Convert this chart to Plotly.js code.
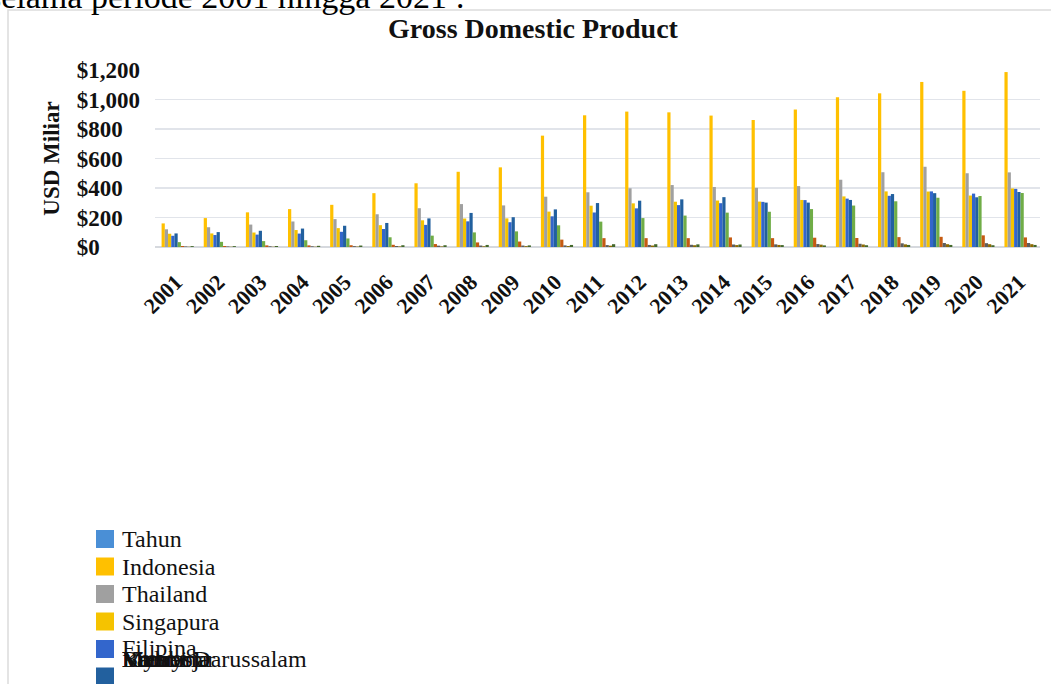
<!DOCTYPE html>
<html>
<head>
<meta charset="utf-8">
<script src="https://cdn.plot.ly/plotly-3.0.1.min.js"></script>
<style>
html,body{margin:0;padding:0;background:#fff;overflow:hidden;}
#chart{width:1051px;height:684px;}
</style>
</head>
<body>
<div id="chart"></div>
<script>
// ---- data (USD billions) ----
const years = ['2001','2002','2003','2004','2005','2006','2007','2008','2009','2010','2011','2012','2013','2014','2015','2016','2017','2018','2019','2020','2021'];
const tahun = years.map(() => null);
const indonesia = [160,196,235,257,286,365,432,510,540,755,893,918,913,891,861,932,1016,1042,1119,1059,1186];
const thailand  = [120,134,152,173,189,222,263,291,282,341,371,398,420,407,401,413,456,507,544,500,506];
const singapura = [90,92,98,115,128,148,181,193,194,240,280,296,307,315,308,319,343,377,376,349,397];
const filipina  = [76,81,84,91,103,122,150,174,168,208,234,262,284,297,306,318,328,347,377,362,394];
const malaysia  = [92,101,110,125,144,163,194,231,202,255,298,314,323,338,301,301,319,359,365,337,373];
const vietnam   = [33,35,40,46,58,66,77,99,106,147,172,196,213,233,239,257,281,310,334,346,366];
const myanmar   = [7,7,11,11,12,15,20,31,37,50,60,60,60,65,60,63,61,67,69,79,65];
const kamboja   = [4,4,5,5,6,7,9,10,10,11,13,14,15,17,18,20,22,25,27,26,27];
const laos      = [2,2,2,2,3,4,4,5,6,7,9,10,12,13,14,16,17,18,19,19,19];
const brunei    = [6,6,7,8,10,12,12,14,11,14,19,19,18,17,13,11,12,14,14,12,14];

const seriesNames = ['Tahun','Indonesia','Thailand','Singapura','Filipina','Malaysia','Vietnam','Myanmar','Kamboja','Laos','Brunei Darussalam'];
const seriesValues = [tahun,indonesia,thailand,singapura,filipina,malaysia,vietnam,myanmar,kamboja,laos,brunei];
const seriesColors = ['#4A8FD6','#FFC000','#A0A0A0','#F5C300','#3366CC','#22609E','#70AD47','#C55A11','#5E5E5E','#8C6A00','#43682B'];

const yTickVals = [0,200,400,600,800,1000,1200];
const yTickLabels = ['$0','$200','$400','$600','$800','$1,000','$1,200'];

const chartTitle = 'Gross Domestic Product';
const yTitle = 'USD Miliar';
const introText = 'selama periode 2001 hingga 2021 :';

// ---- helpers ----
const L = 155, R = 11, T = 70, B = 437;
const PW = 1051 - L - R, PH = 684 - T - B;
const px = x => (x - L) / PW;
const py = y => (684 - B - y) / PH;

// pad y labels so they look left-aligned like the original
function padLabel(s) {
  const longest = yTickLabels.reduce((a, b) => (b.length > a.length ? b : a));
  const dig = t => (t.match(/[0-9]/g) || []).length;
  const com = t => (t.match(/,/g) || []).length;
  return s + '\u2007'.repeat(dig(longest) - dig(s)) + '\u2008'.repeat(com(longest) - com(s));
}

const serif = 'Liberation Serif, Times New Roman, serif';

const traces = seriesNames.map((n, i) => ({
  type: 'bar',
  name: n,
  x: years,
  y: seriesValues[i],
  marker: {color: seriesColors[i], line: {width: 0}},
  showlegend: false,
  hoverinfo: 'x+y+name'
}));

// ---- custom legend (reproduces the original's overlapping entries) ----
const shapes = [];
const annotations = [];
const rowY = i => 539 + 27.5 * i;
seriesNames.forEach((n, i) => {
  const cy = rowY(i);
  shapes.push({type: 'rect', xref: 'paper', yref: 'paper',
    x0: px(96), x1: px(114), y0: py(cy - 9), y1: py(cy + 9),
    fillcolor: seriesColors[i], line: {width: 0}, layer: 'above'});
  const ty = i <= 4 ? (i === 4 ? cy - 1 : cy) : rowY(4) + 10;
  annotations.push({xref: 'paper', yref: 'paper', x: px(120), y: py(ty),
    xanchor: 'left', yanchor: 'middle', showarrow: false, text: n,
    font: {family: serif, size: 24, color: '#111'}});
});

// chart frame
shapes.push({type: 'rect', xref: 'paper', yref: 'paper',
  x0: px(8), x1: px(1070), y0: py(10), y1: py(710),
  line: {color: '#dcdcdc', width: 1.5}, fillcolor: 'rgba(0,0,0,0)', layer: 'below'});

// text of the surrounding document, cut off at the top
annotations.push({xref: 'paper', yref: 'paper', x: px(-14), y: py(-3),
  xanchor: 'left', yanchor: 'middle', showarrow: false, text: introText,
  font: {family: serif, size: 34, color: '#000'}});

const layout = {
  width: 1051, height: 684,
  margin: {l: L, r: R, t: T, b: B, pad: 0},
  paper_bgcolor: '#fff', plot_bgcolor: '#fff',
  barmode: 'group', bargap: 0.16, bargroupgap: 0,
  title: {text: chartTitle, xref: 'container', yref: 'container', x: 533/1051, y: 1 - 28/684,
    xanchor: 'center', yanchor: 'middle',
    font: {family: serif, size: 28, weight: 700, color: '#111'}},
  xaxis: {type: 'category', tickangle: -45, showgrid: false, showline: false, zeroline: false,
    ticks: '', ticklabelstandoff: 17,
    tickfont: {family: serif, size: 22, weight: 700, color: '#111'}},
  yaxis: {range: [0, 1200], tickvals: yTickVals, ticktext: yTickLabels.map(padLabel),
    showgrid: true, gridcolor: '#e1e4ea', gridwidth: 1.6,
    zeroline: true, zerolinecolor: '#d6d9de', zerolinewidth: 1.6, showline: false,
    ticks: '', ticklabelstandoff: 14, automargin: false,
    tickfont: {family: serif, size: 23, weight: 700, color: '#111'},
    title: {text: yTitle, standoff: 10, font: {family: serif, size: 23, weight: 700, color: '#111'}}},
  shapes: shapes,
  annotations: annotations
};

Plotly.newPlot('chart', traces, layout, {displayModeBar: false, staticPlot: true});
</script>
</body>
</html>
